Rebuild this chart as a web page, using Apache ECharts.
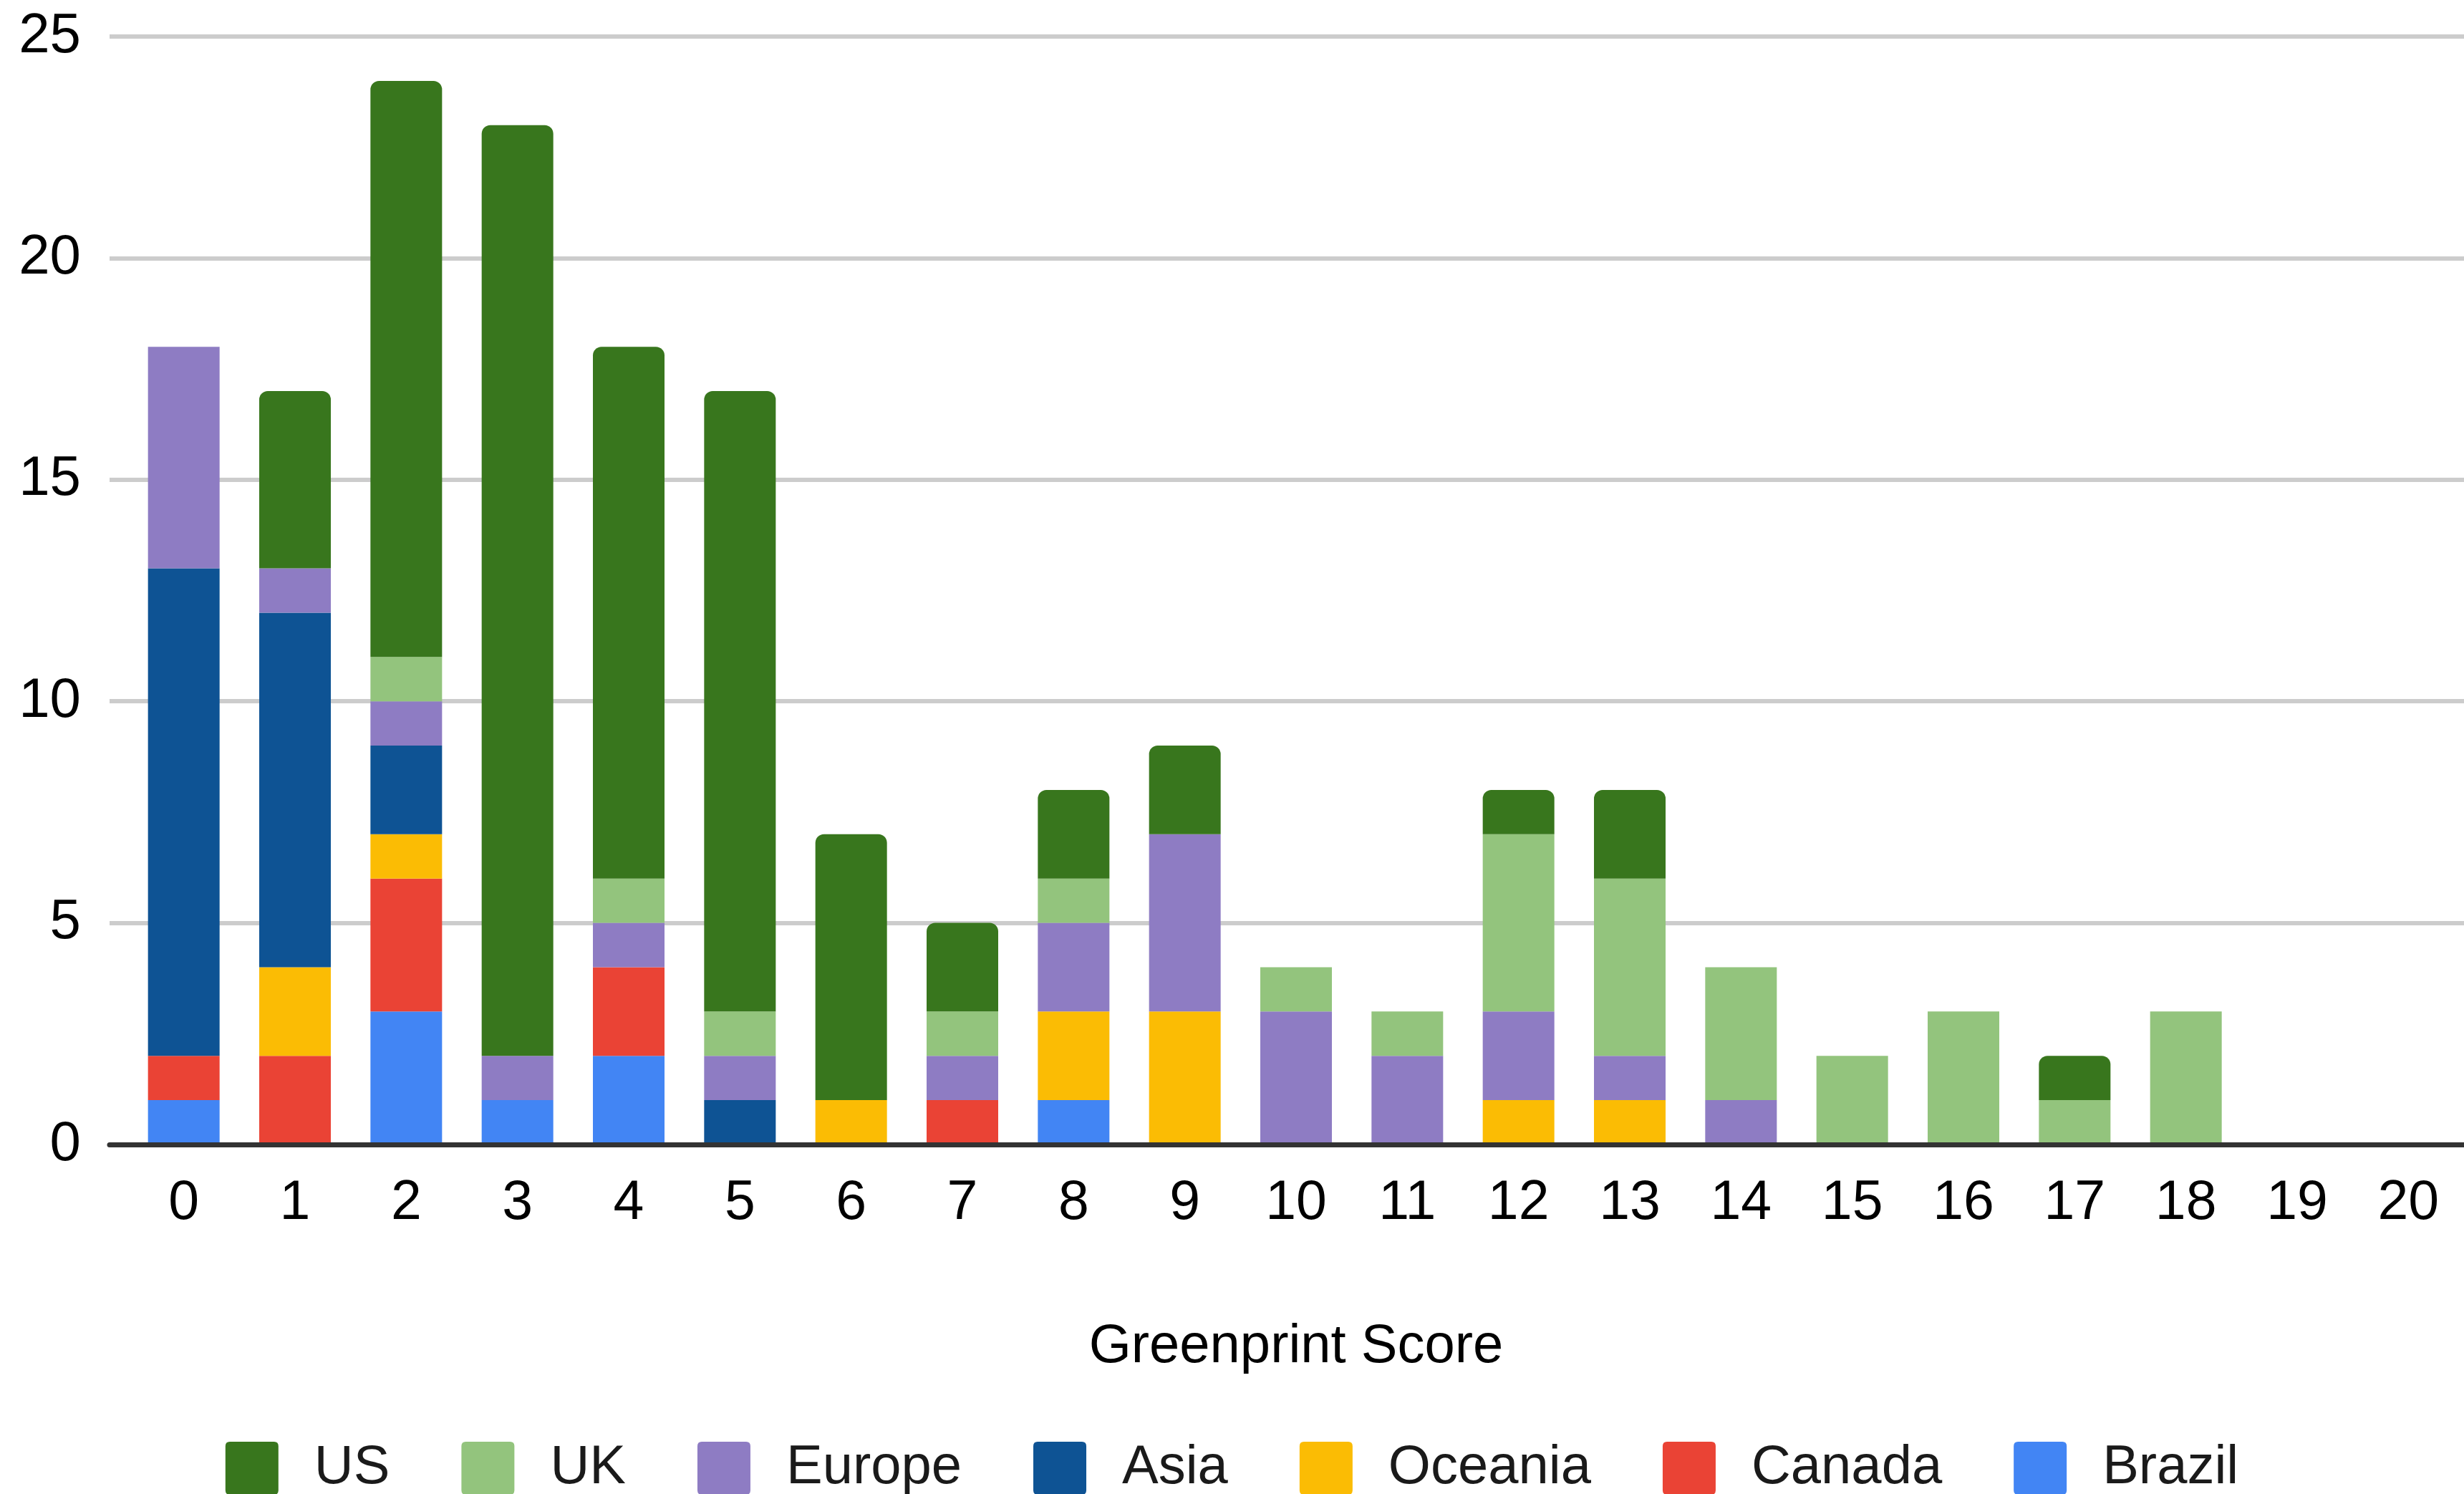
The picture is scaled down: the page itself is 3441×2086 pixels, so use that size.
<!DOCTYPE html>
<html>
<head>
    <meta charset="utf-8">
    <title>Greenprint Score</title>
    <script src="https://cdn.jsdelivr.net/npm/echarts@6/dist/echarts.min.js"></script>
    <style>
        html, body { margin: 0; padding: 0; background: #fff; }
        #chart { width: 3441px; height: 2086px; }
    </style>
</head>
<body>
<div id="chart"></div>
<script>
    // scores 0..20
    var scores = ['0', '1', '2', '3', '4', '5', '6', '7', '8', '9', '10',
        '11', '12', '13', '14', '15', '16', '17', '18', '19', '20'];
    var yTicks = [0, 5, 10, 15, 20, 25];

    // stack order bottom -> top
    var brazil  = [1, 0, 3, 1, 2, 0, 0, 0, 1, 0, 0, 0, 0, 0, 0, 0, 0, 0, 0, 0, 0];
    var canada  = [1, 2, 3, 0, 2, 0, 0, 1, 0, 0, 0, 0, 0, 0, 0, 0, 0, 0, 0, 0, 0];
    var oceania = [0, 2, 1, 0, 0, 0, 1, 0, 2, 3, 0, 0, 1, 1, 0, 0, 0, 0, 0, 0, 0];
    var asia    = [11, 8, 2, 0, 0, 1, 0, 0, 0, 0, 0, 0, 0, 0, 0, 0, 0, 0, 0, 0, 0];
    var europe  = [5, 1, 1, 1, 1, 1, 0, 1, 2, 4, 3, 2, 2, 1, 1, 0, 0, 0, 0, 0, 0];
    var uk      = [0, 0, 1, 0, 1, 1, 0, 1, 1, 0, 1, 1, 4, 4, 3, 2, 3, 1, 3, 0, 0];
    var us      = [0, 4, 13, 21, 12, 14, 6, 2, 2, 2, 0, 0, 1, 2, 0, 0, 0, 1, 0, 0, 0];

    var legendOrder = ['US', 'UK', 'Europe', 'Asia', 'Oceania', 'Canada', 'Brazil'];

    var font = "'Liberation Sans', Arial, sans-serif";
    // small-radius square for the legend keys
    var keyIcon = 'path://M6,0H68Q74,0 74,6V68Q74,74 68,74H6Q0,74 0,68V6Q0,0 6,0Z';

    function makeSeries(name, data, color, rounded) {
        return {
            name: name,
            type: 'bar',
            stack: 'total',
            xAxisIndex: 1,
            yAxisIndex: 1,
            barWidth: 100,
            data: data,
            itemStyle: {
                color: color,
                borderRadius: rounded ? [12, 12, 0, 0] : 0
            }
        };
    }

    var myChart = echarts.init(document.getElementById('chart'));
    myChart.setOption({
        animation: false,
        backgroundColor: '#fff',
        grid: [
            // background grid: gridlines, y labels and base line
            {left: 153, right: 0, top: 51, bottom: 488},
            // bars
            {left: 179, width: 3270, top: 51, bottom: 488}
        ],
        legend: {
            data: legendOrder,
            left: 'center',
            top: 2007,
            icon: keyIcon,
            itemWidth: 74,
            itemHeight: 74,
            itemGap: 100,
            textStyle: {
                fontFamily: font,
                fontSize: 76,
                color: '#1a1a1a',
                padding: [0, 0, 0, 45]
            }
        },
        xAxis: [
            {
                gridIndex: 0,
                type: 'value',
                min: 0,
                max: 1,
                z: 5,
                axisLine: {show: true, onZero: false, lineStyle: {color: '#333', width: 7}},
                axisTick: {show: false},
                axisLabel: {show: false},
                splitLine: {show: false}
            },
            {
                gridIndex: 1,
                type: 'category',
                data: scores,
                axisLine: {show: false},
                axisTick: {show: false},
                axisLabel: {
                    fontFamily: font,
                    fontSize: 77,
                    color: '#000',
                    margin: 44
                },
                name: 'Greenprint Score',
                nameLocation: 'middle',
                nameGap: 245,
                nameTextStyle: {
                    fontFamily: font,
                    fontSize: 76,
                    color: '#000'
                }
            }
        ],
        yAxis: [
            {
                gridIndex: 0,
                type: 'value',
                min: yTicks[0],
                max: yTicks[yTicks.length - 1],
                interval: 5,
                axisLine: {show: false},
                axisTick: {show: false},
                axisLabel: {
                    fontFamily: font,
                    fontSize: 78,
                    color: '#000',
                    margin: 40,
                    padding: [12, 0, 0, 0]
                },
                splitLine: {lineStyle: {color: '#cccccc', width: 6}}
            },
            {
                gridIndex: 1,
                type: 'value',
                min: yTicks[0],
                max: yTicks[yTicks.length - 1],
                interval: 5,
                show: false,
                splitLine: {show: false}
            }
        ],
        series: [
            makeSeries('Brazil', brazil, '#4285f4', false),
            makeSeries('Canada', canada, '#ea4335', false),
            makeSeries('Oceania', oceania, '#fbbc04', false),
            makeSeries('Asia', asia, '#0e5394', false),
            makeSeries('Europe', europe, '#8e7cc3', false),
            makeSeries('UK', uk, '#93c47d', false),
            makeSeries('US', us, '#38761d', true)
        ]
    });
</script>
</body>
</html>
